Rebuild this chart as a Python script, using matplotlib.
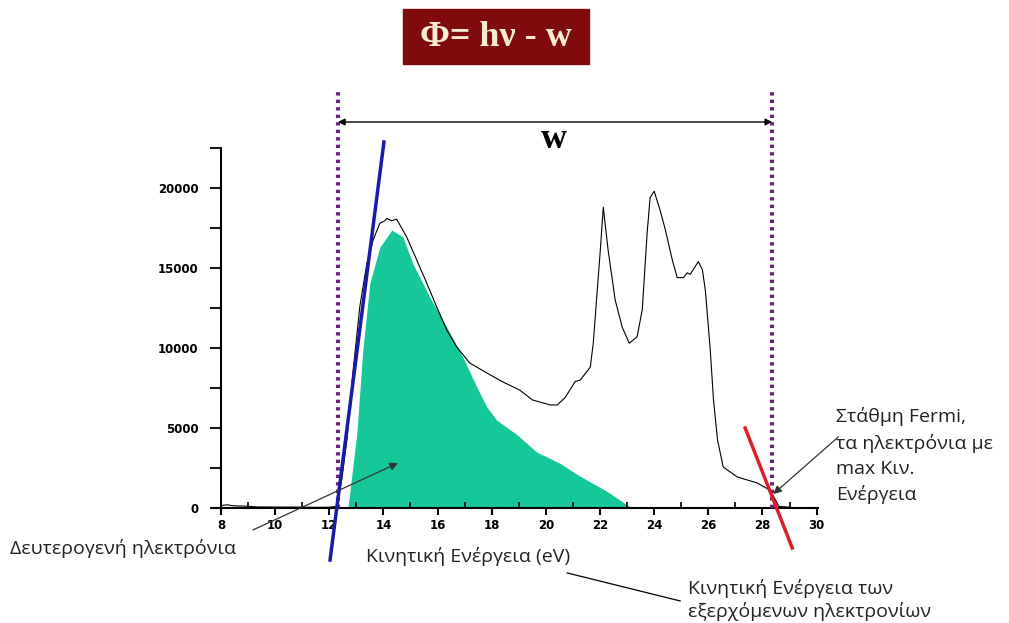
import numpy as np
import matplotlib.pyplot as plt
from matplotlib.patches import Rectangle
from matplotlib.ticker import MultipleLocator

# photoelectron spectrum
energy = [8.0, 8.1, 8.25, 8.4, 8.6, 9.0, 9.3, 10.0, 11.0, 11.5, 12.0, 12.28,
          12.46, 12.65, 12.87, 13.13, 13.39, 13.62, 13.87, 14.05, 14.13, 14.3,
          14.49, 14.86, 15.23, 15.60, 15.97, 16.34, 16.71, 17.19, 17.82, 18.41,
          19.03, 19.51, 20.16, 20.42, 20.71, 21.08, 21.27, 21.64, 21.75, 22.01,
          22.12, 22.30, 22.56, 22.82, 23.08, 23.37, 23.56, 23.74, 23.85, 24.0,
          24.22, 24.41, 24.67, 24.85, 25.08, 25.22, 25.33, 25.63, 25.78, 25.89,
          26.07, 26.19, 26.34, 26.55, 27.07, 27.81, 28.29, 28.45, 28.6, 29.0]
counts = [120, 180, 200, 150, 130, 110, 70, 60, 50, 40, 50, 100,
          1750, 4250, 8400, 12600, 15300, 16750, 17800, 17950, 18100, 17950,
          18050, 16940, 15500, 14060, 12560, 11130, 10060, 9060, 8440, 7880,
          7375, 6750, 6440, 6440, 6900, 7900, 8000, 8800, 10300, 16100,
          18800, 16100, 13000, 11300, 10300, 10700, 12400, 17200, 19400, 19800,
          18600, 17400, 15500, 14400, 14400, 14700, 14600, 15400, 14900, 13600,
          9900, 6750, 4250, 2560, 1940, 1560, 1100, 600, 100, 50]

# secondary electrons (green area)
sec_energy = [12.69, 13.02, 13.24, 13.50, 13.87, 14.31, 14.72, 15.08, 15.71,
              16.34, 16.93, 17.45, 17.82, 18.18, 18.92, 19.66, 20.51, 21.25,
              22.2, 23.17]
sec_counts = [0, 4690, 9880, 14060, 16300, 17375, 16940, 15300, 13190,
              11300, 9440, 7560, 6310, 5500, 4600, 3500, 2800, 2000,
              1100, 0]

cutoff_low = 12.32
fermi_edge = 28.36
blue_x = [12.03, 14.02]
blue_y = [-3250, 22875]
red_x = [27.36, 29.10]
red_y = [5000, -2500]

W, H = 1009, 623
fig = plt.figure(figsize=(W / 100, H / 100), dpi=100)
ax = fig.add_axes([212 / W, 1 - 508 / H, 606 / W, 360 / H])


def fx(px):
    return px / W


def fy(py):
    return 1 - py / H


ax.fill_between(sec_energy, sec_counts, color='#16c79a', lw=0, zorder=1)
ax.plot(energy, counts, color='black', lw=0.8, zorder=2)

ax.set_xlim(7.67, 30.05)
ax.set_ylim(0, 22500)
ax.spines['left'].set_position(('data', 8))
for s in ['top', 'right']:
    ax.spines[s].set_visible(False)
ax.spines['left'].set_linewidth(1.5)
ax.spines['bottom'].set_linewidth(1.5)

ax.set_xticks(np.arange(8, 31, 2))
ax.xaxis.set_minor_locator(MultipleLocator(1))
ax.set_yticks(np.arange(0, 20001, 5000))
ax.yaxis.set_minor_locator(MultipleLocator(2500))
ax.tick_params(axis='x', which='major', direction='out', length=5, width=1.5, pad=3)
ax.tick_params(axis='x', which='minor', direction='in', length=4, width=1.2)
ax.tick_params(axis='y', which='both', direction='out', length=8, width=1.3, pad=8)
for lab in ax.get_xticklabels() + ax.get_yticklabels():
    lab.set_fontsize(8.5)
    lab.set_fontweight('bold')

# tangent lines
ax.plot(blue_x, blue_y, color='#1a1aaa', lw=2.5, clip_on=False, zorder=4)
ax.plot(red_x, red_y, color='#dd1f2a', lw=2.5, clip_on=False, zorder=4)

# cutoff markers
for xv in [cutoff_low, fermi_edge]:
    ax.plot([xv, xv], [0, 26000], color='#6b2380', lw=3, ls=(0, (0.8, 1.0)),
            clip_on=False, zorder=3)

ax.annotate('', xy=(cutoff_low, 24125), xytext=(fermi_edge, 24125),
            arrowprops=dict(arrowstyle='<|-|>', color='black', lw=1,
                            mutation_scale=10, shrinkA=0, shrinkB=0),
            annotation_clip=False)
ax.text(20.3, 23000, 'w', fontsize=26, fontweight='bold', family='Liberation Serif',
        ha='center', va='center')

# title box
fig.patches.append(Rectangle((fx(403), fy(64)), (589 - 403) / W, 55 / H,
                             transform=fig.transFigure, color='#800b0b'))
fig.text(fx(496), fy(38), 'Φ= hν - w', fontsize=26, fontweight='bold',
         family='Liberation Serif', color='#f7ecd2', ha='center', va='center')

txt = dict(family='Open Sans', fontsize=14, color='#222222')
ax.annotate('', xy=(14.54, 2810), xytext=(9.18, -1375),
            arrowprops=dict(arrowstyle='-|>', color='#333333', lw=0.9,
                            mutation_scale=12, shrinkA=0, shrinkB=0),
            annotation_clip=False, zorder=5)
fig.text(fx(10), fy(548), 'Δευτερογενή ηλεκτρόνια', ha='left', va='center', **txt)
fig.text(fx(468), fy(557), 'Κινητική Ενέργεια (eV)', ha='center', va='center', **txt)

ax.plot([20.79, 24.96], [-4060, -5810], color='black', lw=0.9, clip_on=False)
fig.text(fx(688), fy(600), 'Κινητική Ενέργεια των\nεξερχόμενων ηλεκτρονίων',
         ha='left', va='center', linespacing=1.3, **txt)

ax.annotate('', xy=(28.40, 875), xytext=(30.80, 4440),
            arrowprops=dict(arrowstyle='-|>', color='#333333', lw=0.9,
                            mutation_scale=12, shrinkA=0, shrinkB=0),
            annotation_clip=False, zorder=5)
fig.text(fx(836), fy(456), 'Στάθμη Fermi,\nτα ηλεκτρόνια με\nmax Κιν.\nΕνέργεια',
         ha='left', va='center', linespacing=1.5, **txt)

fig.savefig('out.png', dpi=100)
